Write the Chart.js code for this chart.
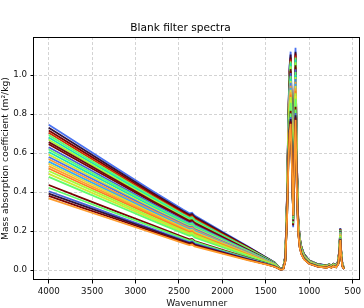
<!DOCTYPE html>
<html>
<head>
<meta charset="utf-8">
<script src="https://cdn.jsdelivr.net/npm/chart.js@4.4.0/dist/chart.umd.min.js"></script>
<style>
  html, body { margin: 0; padding: 0; background: #fff; }
  #chart { display: block; }
</style>
</head>
<body>
<canvas id="chart" width="364" height="308"></canvas>
<script>
// wavenumber grid shared by all spectra (cm-1)
const wavenumbers = [4000, 3600, 3200, 2800, 2450, 2380, 2350, 2320, 2000, 1700, 1500, 1400, 1330,
    1300, 1275, 1255, 1240, 1226, 1214, 1199, 1185, 1171, 1158, 1143, 1127, 1110, 1090, 1060,
    1000, 900, 800, 770, 745, 720, 690, 665, 652, 642, 632, 618, 598];

// one array per blank filter
const s01 = [0.745,0.631,0.517,0.404,0.309,0.291,0.294,0.279,0.196,0.120,0.066,0.040,0.006,
    0.012,0.075,0.40,0.82,1.05,1.12,0.76,0.22,0.84,1.14,0.58,0.27,0.17,0.12,0.083,
    0.050,0.031,0.024,0.030,0.023,0.033,0.026,0.048,0.125,0.215,0.100,0.030,0.012];
const s02 = [0.730,0.618,0.506,0.395,0.302,0.284,0.287,0.273,0.192,0.117,0.065,0.039,0.006,
    0.012,0.074,0.395,0.81,1.04,1.105,0.75,0.23,0.83,1.12,0.57,0.267,0.168,0.118,0.082,
    0.049,0.030,0.024,0.030,0.023,0.032,0.026,0.047,0.123,0.213,0.099,0.030,0.012];
const s03 = [0.716,0.606,0.496,0.388,0.296,0.278,0.281,0.267,0.187,0.115,0.063,0.038,0.006,
    0.011,0.073,0.39,0.80,1.02,1.09,0.74,0.23,0.82,1.11,0.57,0.264,0.166,0.117,0.081,
    0.049,0.030,0.023,0.029,0.022,0.032,0.025,0.047,0.122,0.21,0.097,0.029,0.011];
const s04 = [0.704,0.595,0.488,0.380,0.290,0.273,0.276,0.262,0.184,0.112,0.062,0.037,0.006,
    0.011,0.072,0.385,0.79,1.01,1.08,0.73,0.24,0.81,1.10,0.56,0.261,0.164,0.116,0.080,
    0.048,0.029,0.023,0.029,0.022,0.032,0.025,0.046,0.121,0.208,0.096,0.029,0.011];
const s05 = [0.692,0.585,0.479,0.374,0.285,0.268,0.271,0.257,0.180,0.110,0.061,0.037,0.005,
    0.011,0.071,0.38,0.78,1.00,1.07,0.725,0.24,0.80,1.09,0.56,0.259,0.162,0.114,0.079,
    0.047,0.029,0.022,0.028,0.021,0.031,0.024,0.045,0.119,0.206,0.095,0.028,0.011];
const s06 = [0.680,0.575,0.471,0.367,0.280,0.263,0.266,0.252,0.177,0.108,0.060,0.036,0.005,
    0.011,0.070,0.378,0.77,0.99,1.06,0.72,0.25,0.79,1.08,0.55,0.256,0.160,0.113,0.078,
    0.047,0.029,0.022,0.028,0.021,0.031,0.024,0.045,0.118,0.205,0.094,0.028,0.011];
const s07 = [0.668,0.565,0.462,0.360,0.274,0.258,0.261,0.247,0.173,0.106,0.058,0.035,0.005,
    0.010,0.069,0.373,0.765,0.98,1.045,0.71,0.25,0.78,1.065,0.545,0.254,0.159,0.112,0.077,
    0.046,0.028,0.022,0.028,0.021,0.030,0.024,0.044,0.117,0.203,0.093,0.028,0.011];
const s08 = [0.656,0.555,0.454,0.353,0.269,0.253,0.256,0.242,0.170,0.103,0.057,0.035,0.005,
    0.010,0.068,0.37,0.76,0.97,1.03,0.70,0.25,0.77,1.05,0.54,0.251,0.157,0.111,0.076,
    0.046,0.028,0.021,0.027,0.020,0.030,0.023,0.044,0.116,0.201,0.092,0.027,0.010];
const s09 = [0.645,0.545,0.446,0.347,0.264,0.248,0.251,0.237,0.166,0.101,0.056,0.034,0.005,
    0.010,0.067,0.366,0.75,0.96,1.02,0.695,0.26,0.765,1.04,0.54,0.249,0.155,0.109,0.076,
    0.045,0.027,0.021,0.027,0.020,0.030,0.023,0.043,0.114,0.199,0.091,0.027,0.010];
const s10 = [0.630,0.532,0.435,0.339,0.257,0.241,0.244,0.231,0.162,0.099,0.055,0.033,0.005,
    0.010,0.066,0.36,0.74,0.94,1.01,0.69,0.26,0.755,1.03,0.53,0.246,0.153,0.108,0.074,
    0.045,0.027,0.020,0.026,0.020,0.029,0.022,0.043,0.113,0.197,0.089,0.026,0.010];
const s11 = [0.618,0.522,0.427,0.332,0.251,0.236,0.239,0.226,0.158,0.096,0.054,0.032,0.005,
    0.009,0.065,0.356,0.73,0.93,0.995,0.68,0.26,0.745,1.015,0.525,0.243,0.151,0.107,0.074,
    0.044,0.026,0.020,0.026,0.019,0.029,0.022,0.042,0.112,0.195,0.088,0.026,0.010];
const s12 = [0.605,0.511,0.418,0.325,0.246,0.231,0.234,0.220,0.154,0.094,0.052,0.031,0.004,
    0.009,0.064,0.352,0.72,0.92,0.98,0.67,0.27,0.735,1.00,0.52,0.240,0.150,0.105,0.073,
    0.043,0.026,0.020,0.026,0.019,0.028,0.022,0.041,0.110,0.193,0.087,0.026,0.009];
const s13 = [0.592,0.500,0.408,0.317,0.240,0.225,0.228,0.215,0.151,0.092,0.051,0.031,0.004,
    0.009,0.063,0.347,0.71,0.91,0.97,0.66,0.27,0.725,0.99,0.515,0.238,0.148,0.104,0.072,
    0.043,0.025,0.019,0.025,0.019,0.028,0.021,0.041,0.109,0.191,0.086,0.025,0.009];
const s14 = [0.580,0.490,0.400,0.310,0.234,0.220,0.223,0.210,0.147,0.089,0.050,0.030,0.004,
    0.009,0.062,0.343,0.70,0.90,0.96,0.655,0.27,0.715,0.98,0.51,0.235,0.146,0.102,0.071,
    0.042,0.025,0.019,0.025,0.018,0.027,0.021,0.040,0.107,0.189,0.085,0.025,0.009];
const s15 = [0.568,0.480,0.391,0.304,0.229,0.215,0.218,0.205,0.143,0.087,0.049,0.029,0.004,
    0.008,0.061,0.339,0.69,0.885,0.945,0.65,0.27,0.71,0.965,0.505,0.232,0.144,0.101,0.070,
    0.042,0.024,0.018,0.024,0.018,0.027,0.020,0.040,0.106,0.187,0.084,0.024,0.009];
const s16 = [0.556,0.469,0.383,0.297,0.223,0.209,0.212,0.200,0.140,0.085,0.047,0.028,0.004,
    0.008,0.060,0.335,0.685,0.875,0.935,0.64,0.28,0.70,0.955,0.50,0.230,0.142,0.100,0.069,
    0.041,0.024,0.018,0.024,0.017,0.026,0.020,0.039,0.105,0.185,0.082,0.024,0.008];
const s17 = [0.545,0.459,0.375,0.290,0.218,0.204,0.207,0.195,0.137,0.083,0.046,0.028,0.004,
    0.008,0.059,0.331,0.677,0.864,0.924,0.633,0.28,0.69,0.944,0.495,0.228,0.141,0.099,0.068,
    0.040,0.024,0.018,0.024,0.017,0.026,0.020,0.038,0.104,0.183,0.081,0.024,0.008];
const s18 = [0.533,0.449,0.366,0.284,0.213,0.199,0.202,0.190,0.133,0.081,0.045,0.027,0.003,
    0.008,0.058,0.327,0.67,0.853,0.912,0.625,0.28,0.683,0.932,0.49,0.225,0.139,0.097,0.067,
    0.040,0.023,0.017,0.023,0.017,0.026,0.019,0.038,0.103,0.181,0.080,0.023,0.008];
const s19 = [0.521,0.439,0.358,0.277,0.207,0.194,0.197,0.185,0.129,0.078,0.044,0.026,0.003,
    0.007,0.057,0.323,0.66,0.842,0.90,0.617,0.28,0.674,0.92,0.485,0.222,0.137,0.096,0.066,
    0.039,0.023,0.017,0.023,0.016,0.025,0.019,0.037,0.101,0.179,0.079,0.023,0.008];
const s20 = [0.508,0.428,0.348,0.269,0.201,0.188,0.191,0.180,0.126,0.076,0.043,0.026,0.003,
    0.007,0.056,0.318,0.65,0.83,0.887,0.61,0.28,0.664,0.907,0.48,0.220,0.135,0.095,0.065,
    0.039,0.022,0.016,0.022,0.016,0.025,0.018,0.037,0.100,0.177,0.078,0.022,0.008];
const s21 = [0.493,0.415,0.338,0.261,0.195,0.182,0.185,0.173,0.121,0.073,0.041,0.025,0.003,
    0.007,0.055,0.313,0.64,0.816,0.873,0.60,0.28,0.653,0.893,0.473,0.217,0.133,0.093,0.064,
    0.038,0.022,0.016,0.022,0.016,0.024,0.018,0.036,0.098,0.175,0.077,0.022,0.007];
const s22 = [0.478,0.402,0.327,0.252,0.188,0.176,0.179,0.167,0.117,0.070,0.040,0.024,0.003,
    0.006,0.054,0.308,0.63,0.80,0.858,0.59,0.28,0.642,0.878,0.467,0.213,0.131,0.092,0.063,
    0.037,0.021,0.015,0.021,0.015,0.024,0.018,0.035,0.097,0.173,0.075,0.021,0.007];
const s23 = [0.436,0.366,0.297,0.229,0.169,0.157,0.160,0.149,0.104,0.063,0.036,0.021,0.003,
    0.005,0.050,0.293,0.60,0.763,0.817,0.563,0.27,0.61,0.837,0.449,0.204,0.125,0.087,0.060,
    0.035,0.020,0.014,0.020,0.014,0.022,0.016,0.033,0.092,0.166,0.071,0.020,0.006];
const s24 = [0.422,0.354,0.287,0.221,0.162,0.151,0.154,0.144,0.100,0.060,0.034,0.020,0.002,
    0.005,0.049,0.289,0.59,0.75,0.803,0.554,0.27,0.60,0.823,0.443,0.201,0.123,0.086,0.059,
    0.035,0.019,0.014,0.020,0.014,0.022,0.016,0.033,0.091,0.164,0.070,0.020,0.006];
const s25 = [0.404,0.339,0.274,0.210,0.154,0.143,0.146,0.136,0.095,0.057,0.033,0.019,0.002,
    0.005,0.048,0.282,0.576,0.733,0.785,0.543,0.28,0.587,0.805,0.435,0.198,0.120,0.084,0.058,
    0.034,0.018,0.013,0.019,0.013,0.021,0.015,0.032,0.089,0.161,0.068,0.019,0.006];
const s26 = [0.392,0.329,0.266,0.204,0.149,0.138,0.141,0.131,0.091,0.054,0.031,0.018,0.002,
    0.004,0.047,0.278,0.567,0.722,0.774,0.535,0.28,0.578,0.794,0.43,0.195,0.119,0.083,0.057,
    0.033,0.018,0.013,0.019,0.013,0.021,0.015,0.031,0.088,0.159,0.067,0.019,0.005];
const s27 = [0.380,0.318,0.258,0.197,0.143,0.133,0.136,0.126,0.088,0.052,0.030,0.018,0.002,
    0.004,0.046,0.274,0.559,0.711,0.762,0.528,0.28,0.569,0.782,0.425,0.193,0.117,0.081,0.056,
    0.033,0.017,0.012,0.018,0.012,0.020,0.014,0.031,0.086,0.157,0.066,0.018,0.005];
const s28 = [0.368,0.308,0.249,0.190,0.138,0.128,0.131,0.121,0.084,0.050,0.029,0.017,0.002,
    0.004,0.045,0.27,0.55,0.70,0.75,0.52,0.28,0.56,0.77,0.42,0.19,0.115,0.080,0.055,
    0.032,0.017,0.012,0.018,0.012,0.020,0.014,0.030,0.085,0.155,0.065,0.018,0.005];

const seriesList = [s01, s02, s03, s04, s05, s06, s07, s08, s09, s10, s11, s12, s13, s14,
    s15, s16, s17, s18, s19, s20, s21, s22, s23, s24, s25, s26, s27, s28];
const seriesColors = ['#4a72f0', '#30123b', '#7a0403', '#d23105', '#62fc6b', '#1be5b5', '#a4fc3c',
    '#6a0a15', '#7a0403', '#4662d7', '#62fc6b', '#1ae4b6', '#d2e935', '#4a72f0',
    '#fe9b2d', '#36aaf9', '#e1dd37', '#fea331', '#fb8022', '#a4fc3c', '#d2e935',
    '#62fc6b', '#7a0403', '#62fc6b', '#4662d7', '#30123b', '#7a0403', '#fe9b2d'];

const xTicks = [4000, 3500, 3000, 2500, 2000, 1500, 1000, 500];
const yTicks = [0.0, 0.2, 0.4, 0.6, 0.8, 1.0];

const fontFamily = "'DejaVu Sans', sans-serif";

// later filters are painted over earlier ones, like matplotlib does
const datasets = seriesList.map((vals, i) => ({
    data: vals.map((v, j) => ({x: wavenumbers[j], y: v})),
    borderColor: seriesColors[i],
    borderWidth: 1.8,
    pointRadius: 0,
    tension: 0,
    fill: false,
    order: seriesList.length - i
}));

// closed box round the plot area (top and right spines too)
const frame = {
    id: 'frame',
    afterDraw(chart) {
        const {ctx, chartArea: a} = chart;
        ctx.save();
        ctx.strokeStyle = '#000';
        ctx.lineWidth = 1;
        ctx.strokeRect(Math.round(a.left) - 0.5, Math.round(a.top) + 0.5,
            Math.round(a.right - a.left), Math.round(a.bottom - a.top) - 1);
        ctx.restore();
    }
};

new Chart(document.getElementById('chart'), {
    type: 'line',
    data: { datasets: datasets },
    plugins: [frame],
    options: {
        responsive: false,
        devicePixelRatio: 1,
        animation: false,
        layout: { padding: { left: 0, right: 3, top: 0, bottom: 0 } },
        plugins: {
            legend: { display: false },
            tooltip: { enabled: false },
            title: {
                display: true,
                text: 'Blank filter spectra',
                color: '#000',
                font: { family: fontFamily, size: 10.6, weight: 'normal' },
                padding: { top: 21.6, bottom: 2.7 }
            }
        },
        scales: {
            x: {
                type: 'linear',
                reverse: true,
                min: 420,
                max: 4170,
                afterBuildTicks: s => { s.ticks = xTicks.map(v => ({value: v})); },
                afterFit: s => { s.height = 28; },
                ticks: {
                    color: '#111',
                    padding: 3,
                    maxRotation: 0,
                    font: { family: fontFamily, size: 8.7 },
                    callback: v => String(v)
                },
                grid: { color: '#c8c8c8', lineWidth: 0.8, tickLength: 3.5, tickColor: '#000', tickWidth: 1 },
                border: { display: false, dash: [3, 2] },
                title: {
                    display: true,
                    text: 'Wavenumner',
                    color: '#111',
                    padding: { top: 0, bottom: -1.5 },
                    font: { family: fontFamily, size: 9.2 }
                }
            },
            y: {
                type: 'linear',
                min: -0.051,
                max: 1.195,
                afterBuildTicks: s => { s.ticks = yTicks.map(v => ({value: v})); },
                afterFit: s => { s.width = 34; },
                ticks: {
                    color: '#111',
                    padding: 3.5,
                    font: { family: fontFamily, size: 8.7 },
                    callback: v => v.toFixed(1)
                },
                grid: { color: '#c8c8c8', lineWidth: 0.8, tickLength: 3.5, tickColor: '#000', tickWidth: 1 },
                border: { display: false, dash: [3, 2] },
                title: {
                    display: true,
                    text: 'Mass absorption coefficient (m²/kg)',
                    color: '#111',
                    padding: 0,
                    font: { family: fontFamily, size: 9.2 }
                }
            }
        }
    }
});
</script>
</body>
</html>
